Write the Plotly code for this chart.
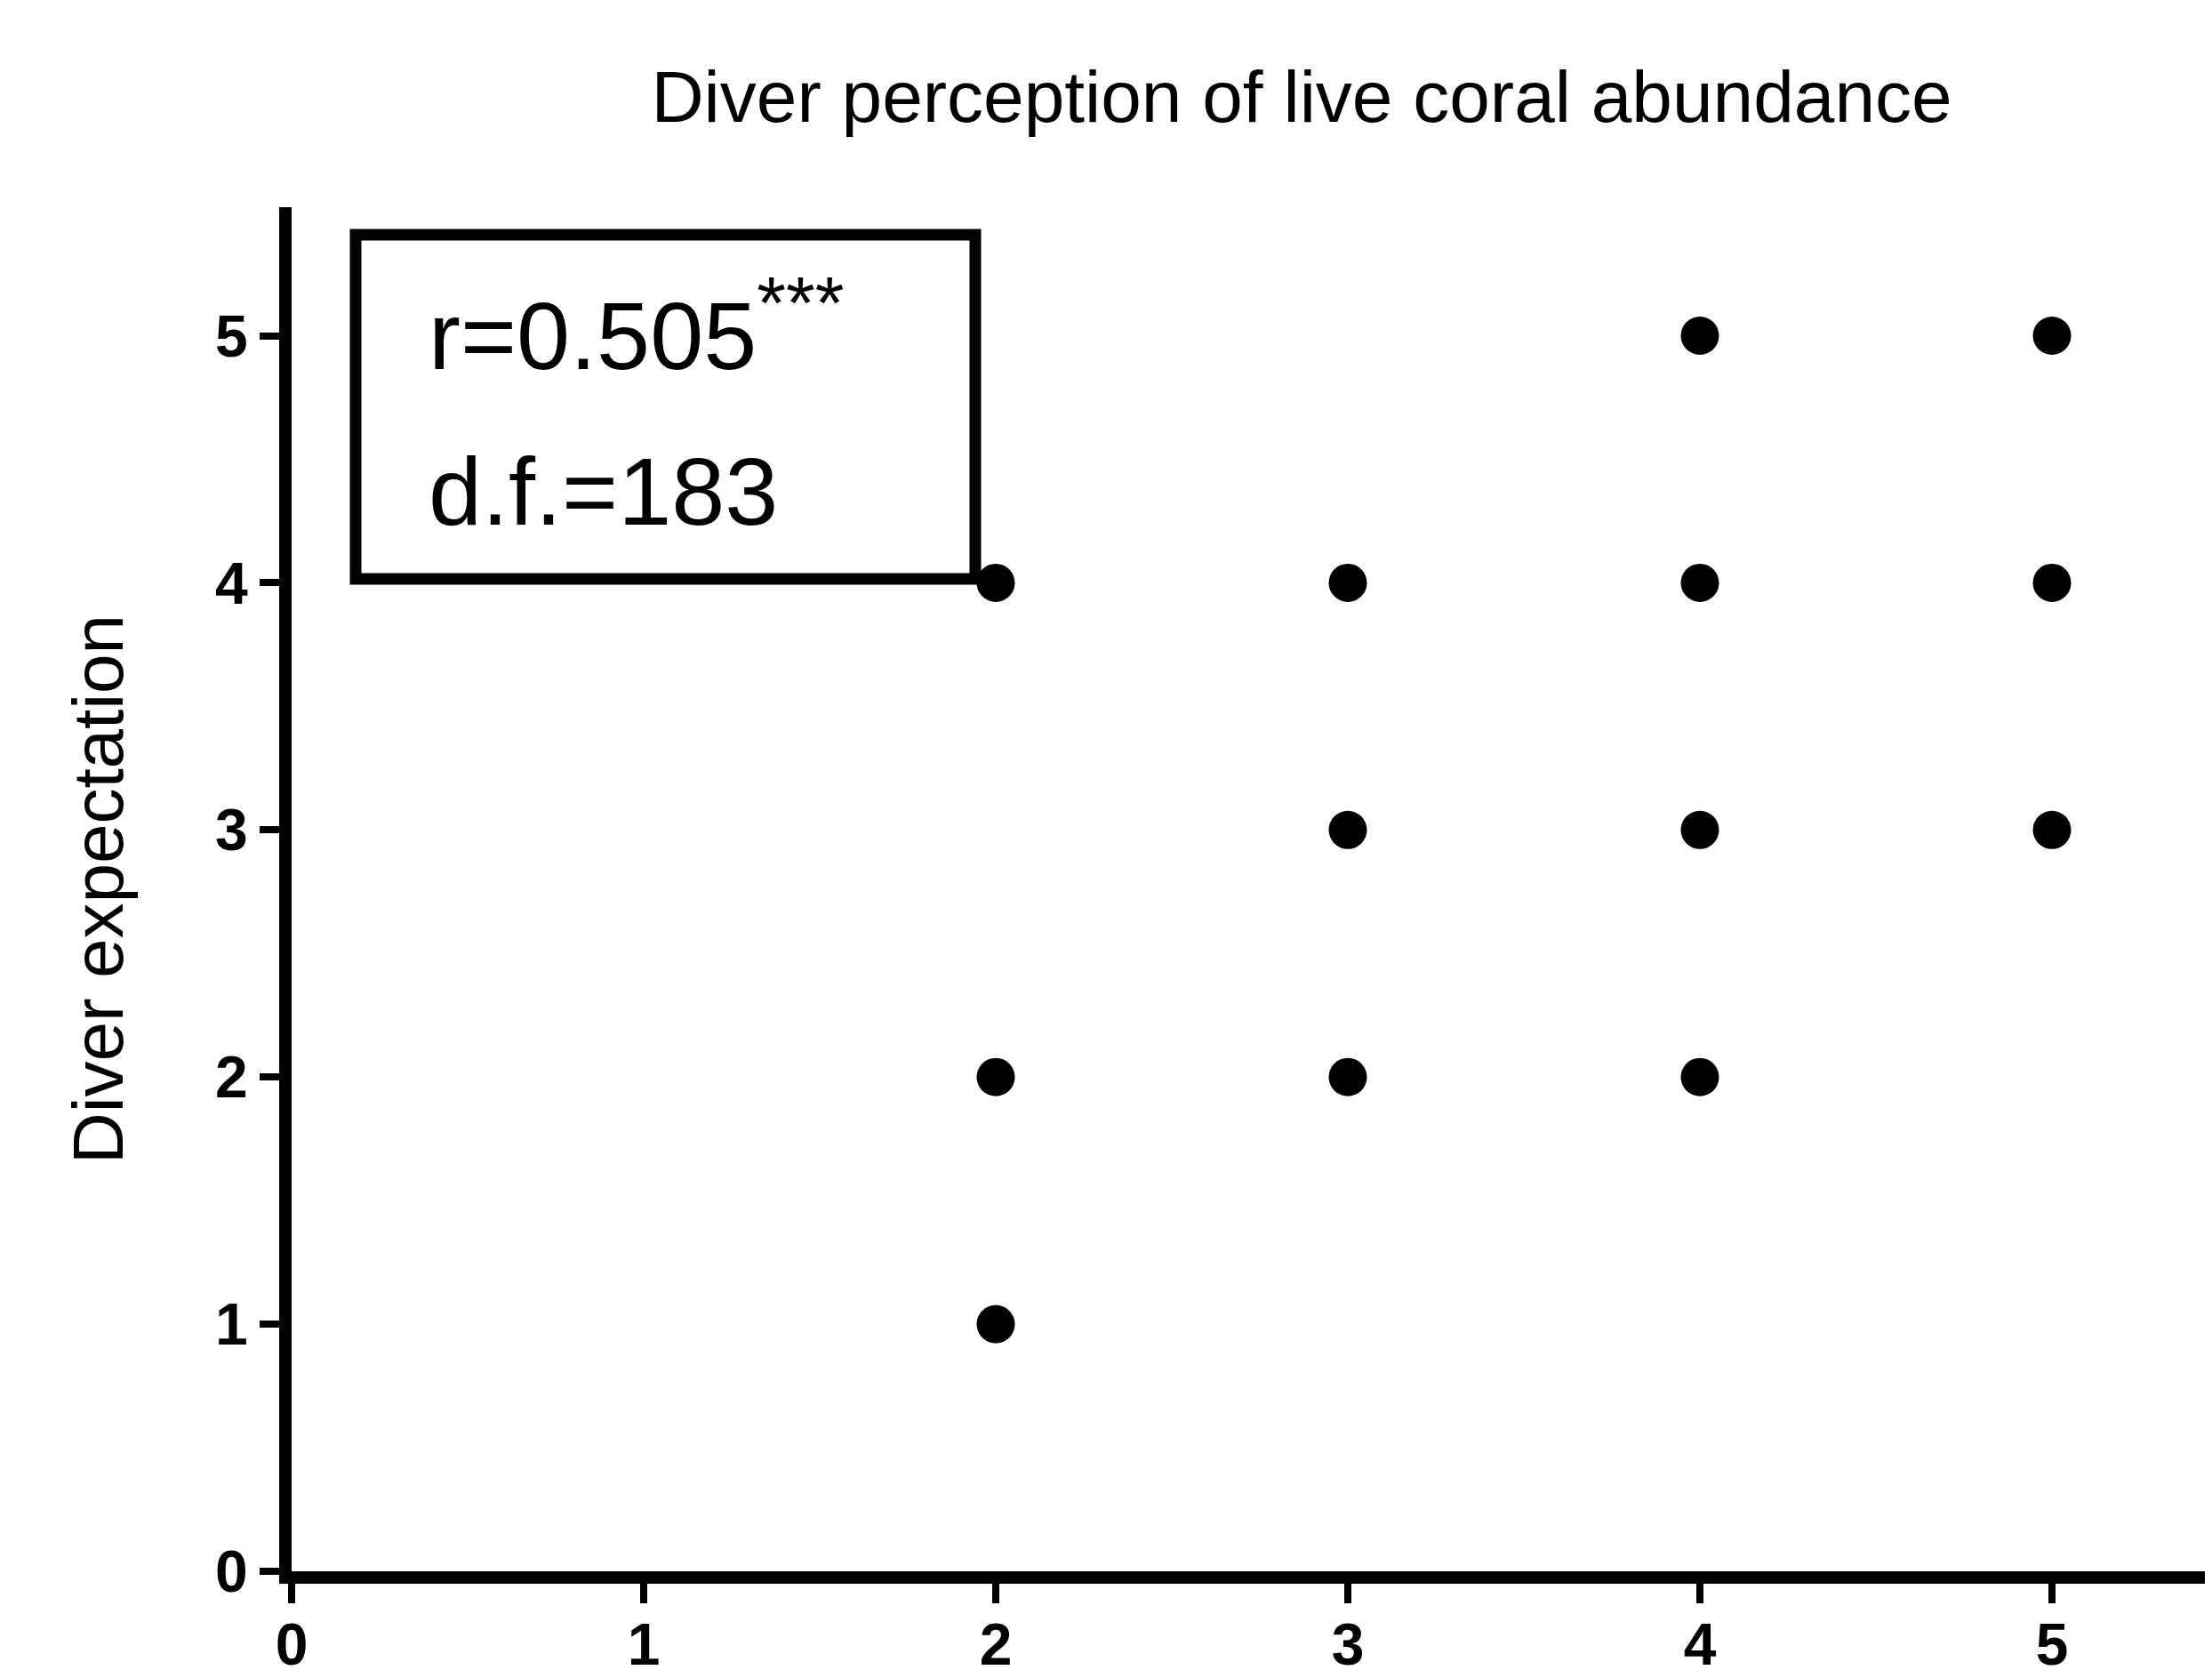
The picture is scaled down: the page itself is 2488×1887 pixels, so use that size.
import plotly.graph_objects as go

# Data
perception = [2, 2, 2, 3, 3, 3, 4, 4, 4, 4, 5, 5, 5]
expectation = [4, 2, 1, 4, 3, 2, 5, 4, 3, 2, 5, 4, 3]
tick_values = [0, 1, 2, 3, 4, 5]
tick_labels = ["0", "1", "2", "3", "4", "5"]
title_text = "Diver perception of live coral abundance"
y_title_text = "Diver expectation"
stat_r = "r=0.505<sup><span style='font-size:84px'>***</span></sup>"
stat_df = "d.f.=183"

FONT = "Liberation Sans, Arial, Helvetica, sans-serif"

W, H = 2488, 1887
L, R, T, B = 320, 0, 225, 128
PW = W - L - R
PH = H - T - B

fig = go.Figure()
fig.add_trace(go.Scatter(
    x=perception, y=expectation, mode="markers",
    marker=dict(size=43, color="black", line=dict(width=0)),
    showlegend=False, hoverinfo="skip",
))

axis_common = dict(
    showline=True, linecolor="black", linewidth=14,
    ticks="outside", ticklen=22, tickwidth=8, tickcolor="black",
    showgrid=False, zeroline=False,
    tickvals=tick_values, ticktext=tick_labels,
    tickfont=dict(family=FONT, size=66, color="black", weight="bold"),
    mirror=False,
)

fig.update_layout(
    width=W, height=H,
    margin=dict(l=L, r=R, t=T, b=B, pad=0),
    paper_bgcolor="white", plot_bgcolor="white",
    xaxis=dict(range=[0, PW / 396.0], ticklabelstandoff=-10, **axis_common),
    yaxis=dict(range=[0, 5.52], **axis_common),
    title=dict(
        text=title_text, x=1456 / W, xref="container", xanchor="center",
        y=1 - 100 / H, yref="container", yanchor="middle",
        font=dict(family=FONT, size=82, color="black"),
    ),
)

# y-axis title
fig.add_annotation(
    text=y_title_text, textangle=-90, showarrow=False,
    xref="paper", yref="paper", x=(102 - L) / PW, y=0.5,
    xanchor="center", yanchor="middle",
    font=dict(family=FONT, size=80, color="black"),
)

# statistics box
bx0, bx1, by0, by1 = 392, 1089, 256, 643
fig.add_shape(
    type="rect", xref="paper", yref="paper",
    x0=(bx0 - L) / PW, x1=(bx1 - L) / PW,
    y0=1 - (by1 - T) / PH, y1=1 - (by0 - T) / PH,
    line=dict(color="black", width=13), fillcolor="rgba(0,0,0,0)",
)
fig.add_annotation(
    text=stat_r, showarrow=False, xref="paper", yref="paper",
    x=(472 - L) / PW, y=1 - (358 - T) / PH, xanchor="left", yanchor="middle",
    font=dict(family=FONT, size=108, color="black"),
)
fig.add_annotation(
    text=stat_df, showarrow=False, xref="paper", yref="paper",
    x=(472 - L) / PW, y=1 - (544 - T) / PH, xanchor="left", yanchor="middle",
    font=dict(family=FONT, size=108, color="black"),
)

fig.write_html("out.html")
